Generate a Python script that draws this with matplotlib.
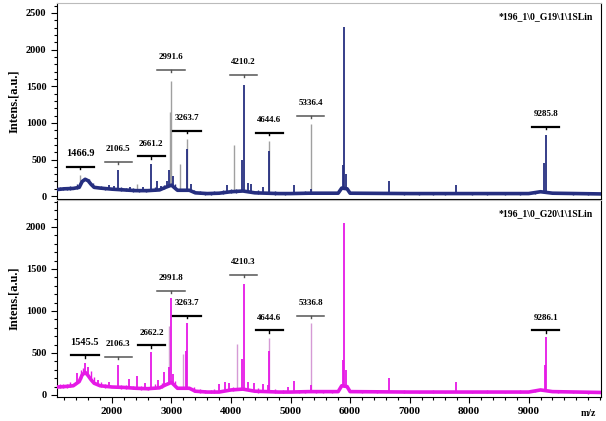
import matplotlib.pyplot as plt
import numpy as np
from matplotlib.ticker import MultipleLocator, FixedLocator

plt.rcParams['font.family'] = ['Liberation Serif', 'DejaVu Serif']

# ---- top spectrum (G19) ----
base1_mz = [1080, 1200, 1350, 1450, 1500, 1550, 1600, 1650, 1700, 1800, 2000, 2200, 2400,
            2600, 2800, 2900, 3000, 3100, 3300, 3400, 3600, 3800, 4000, 4200, 4400, 4600,
            4800, 5000, 5300, 5800, 5860, 5950, 6000, 7000, 8000, 9000, 9200, 9400, 10220]
base1_int = [90, 100, 105, 120, 200, 230, 210, 160, 120, 110, 95, 85, 75,
             75, 85, 120, 150, 80, 80, 45, 35, 40, 60, 70, 45, 40,
             35, 35, 40, 40, 110, 100, 40, 35, 35, 35, 60, 40, 30]
peak1_mz = [1370, 1540, 1580, 1750, 1950, 2030, 2106.5, 2300, 2520, 2661.2, 2760, 2830, 2930,
            2960, 3020, 3263.7, 3320, 3930, 4180, 4210.2, 4280, 4340, 4530, 4644.6, 5050,
            5336.4, 5880, 5904.0, 5925, 6650, 7780, 9265, 9285.8]
peak1_int = [130, 250, 240, 130, 150, 140, 361, 130, 120, 444, 200, 140, 200,
             350, 270, 639, 170, 150, 500, 1516, 180, 160, 130, 611, 150,
             100, 420, 2309, 300, 208, 153, 458, 833]
# small noise spikes read along the baseline
noise1_mz = [1120, 1180, 1250, 1300, 1420, 1620, 1680, 1820, 1880, 2160, 2240, 2360, 2460,
             2580, 2720, 2880, 3060, 3380, 3480, 3560, 3660, 3720, 3860, 4000, 4080, 4460,
             4740, 4900, 5150, 5250, 5420, 5550, 5700, 6200, 6450, 6900, 7150, 7400, 7600,
             8050, 8300, 8600, 8850, 9100, 9500, 9750, 10000]
noise1_int = [120, 130, 125, 140, 160, 230, 180, 140, 130, 120, 115, 110, 100,
              100, 120, 150, 170, 90, 70, 60, 60, 70, 80, 95, 100, 80,
              70, 60, 60, 65, 60, 55, 60, 55, 55, 55, 50, 55, 50,
              50, 55, 50, 55, 65, 55, 50, 45]
gray1_mz = [1466.9, 2420, 2970, 2991.6, 3143, 3263.7, 4050, 4644.6, 5336.4]
gray1_int = [290, 170, 1150, 1571, 444, 778, 694, 750, 983]
lab1_mz = [1466.9, 2106.5, 2661.2, 2991.6, 3263.7, 4210.2, 4644.6, 5336.4, 9285.8]
lab1_bar = [400, 470, 542, 1722, 889, 1653, 861, 1097, 944]

# ---- bottom spectrum (G20) ----
base2_mz = [1080, 1200, 1350, 1450, 1500, 1550, 1600, 1650, 1700, 1800, 2000, 2200, 2400,
            2600, 2800, 2900, 3000, 3100, 3300, 3400, 3600, 3800, 4000, 4200, 4400, 4600,
            4800, 5000, 5300, 5800, 5860, 5950, 6000, 7000, 8000, 9000, 9200, 9400, 10220]
base2_int = [95, 100, 110, 160, 240, 270, 230, 180, 140, 110, 95, 90, 80,
             75, 85, 120, 150, 80, 80, 45, 35, 35, 60, 70, 45, 40,
             35, 35, 40, 40, 110, 100, 40, 35, 35, 35, 60, 40, 30]
peak2_mz = [1420, 1545.5, 1600, 1760, 1950, 2106.3, 2290, 2420, 2560, 2662.2, 2780, 2880,
            2950, 2991.8, 3020, 3250, 3263.7, 3800, 3900, 3970, 4190, 4210.3, 4290, 4380,
            4530, 4620, 4644.6, 4950, 5060, 5336.8, 5880, 5904.0, 5925, 6650, 7780, 9270, 9286.1]
peak2_int = [260, 385, 330, 180, 150, 361, 190, 230, 140, 506, 180, 270,
             330, 1154, 250, 518, 855, 130, 150, 140, 430, 1321, 160, 140,
             130, 120, 520, 100, 170, 120, 420, 2047, 300, 205, 157, 361, 687]
noise2_mz = [1120, 1180, 1250, 1300, 1480, 1520, 1640, 1700, 1820, 1880, 2160, 2240, 2360,
             2480, 2600, 2720, 2840, 3060, 3380, 3480, 3560, 3660, 3720, 4040, 4460, 4740,
             4880, 5150, 5250, 5420, 5550, 5700, 6200, 6450, 6900, 7150, 7400, 7600, 8050,
             8300, 8600, 8850, 9100, 9500, 9750, 10000]
noise2_int = [125, 130, 130, 150, 300, 320, 290, 220, 150, 135, 120, 115, 110,
              110, 100, 130, 140, 170, 90, 70, 60, 60, 70, 100, 80, 70,
              65, 60, 65, 60, 55, 60, 55, 55, 55, 50, 55, 50, 50,
              55, 50, 55, 65, 55, 50, 45]
pale2_mz = [2960, 3200, 4100, 4644.6, 5336.8]
pale2_int = [820, 482, 602, 675, 855]
lab2_mz = [1545.5, 2106.3, 2662.2, 2991.8, 3263.7, 4210.3, 4644.6, 5336.8, 9286.1]
lab2_bar = [470, 458, 590, 1241, 940, 1434, 771, 940, 771]

fig = plt.figure(figsize=(6.06, 4.21), dpi=100)
ax1 = fig.add_axes([0.094, 0.527, 0.898, 0.466])
ax2 = fig.add_axes([0.094, 0.057, 0.898, 0.468])


def draw(ax, bmz, bint, pmz, pint, nmz, nint, gmz, gint, lmz, lbar, col, gcol, ymax, name):
    ax.vlines(gmz, np.interp(gmz, bmz, bint), gint, color=gcol, lw=1.0, zorder=2)
    ax.plot(bmz, bint, color=col, lw=2.6, zorder=3)
    ax.vlines(nmz, np.interp(nmz, bmz, bint) - 15, nint, color=col, lw=1.0, zorder=3)
    ax.vlines(pmz, np.interp(pmz, bmz, bint), pint, color=col, lw=1.3, zorder=3)
    for i, (m, b) in enumerate(zip(lmz, lbar)):
        c = 'black' if i % 2 == 0 else '#555555'
        lw = 1.6 if i % 2 == 0 else 1.1
        ax.plot([m - 230, m + 230], [b, b], color=c, lw=lw, zorder=4)
        ax.plot([m, m], [b, b - ymax * 0.012], color=c, lw=1, zorder=4)
        fs = 7.5 if i == 0 else 6.5
        ax.text(m, b + ymax * 0.045, f'{m:.1f}', ha='center', va='bottom',
                fontsize=fs, fontweight='bold')
    ax.set_xlim(1076, 10218)
    ax.set_ylabel('Intens.[a.u.]', fontsize=9, fontweight='bold', labelpad=4)
    ax.yaxis.set_major_locator(MultipleLocator(500))
    ax.yaxis.set_minor_locator(MultipleLocator(100))
    ax.xaxis.set_major_locator(FixedLocator(list(range(2000, 10000, 1000))))
    ax.xaxis.set_minor_locator(MultipleLocator(200))
    ax.tick_params(axis='y', labelsize=7.5)
    ax.tick_params(axis='x', labelsize=8)
    ax.tick_params(axis='both', length=4, width=0.8)
    ax.tick_params(which='minor', length=2.5, width=0.8)
    for t in ax.get_yticklabels():
        t.set_fontweight('bold')
    ax.spines['top'].set_color('#bbbbbb')
    ax.text(0.985, 0.955, name, transform=ax.transAxes, ha='right', va='top',
            fontsize=7, fontweight='bold')


draw(ax1, base1_mz, base1_int, peak1_mz, peak1_int, noise1_mz, noise1_int, gray1_mz, gray1_int,
     lab1_mz, lab1_bar, '#262f80', '#a0a0a0', 2600, '*196_1\\0_G19\\1\\1SLin')
ax1.set_ylim(-41, 2637)
ax1.tick_params(axis='x', which='both', bottom=False, labelbottom=False)

draw(ax2, base2_mz, base2_int, peak2_mz, peak2_int, noise2_mz, noise2_int, pale2_mz, pale2_int,
     lab2_mz, lab2_bar, '#e619e6', '#d59ad5', 2300, '*196_1\\0_G20\\1\\1SLin')
ax2.set_ylim(-24, 2321)
for t in ax2.get_xticklabels():
    t.set_fontweight('bold')
ax2.text(0.99, -0.085, 'm/z', transform=ax2.transAxes, ha='right', va='center',
         fontsize=7, fontweight='bold')

fig.savefig('out.png', dpi=100)
